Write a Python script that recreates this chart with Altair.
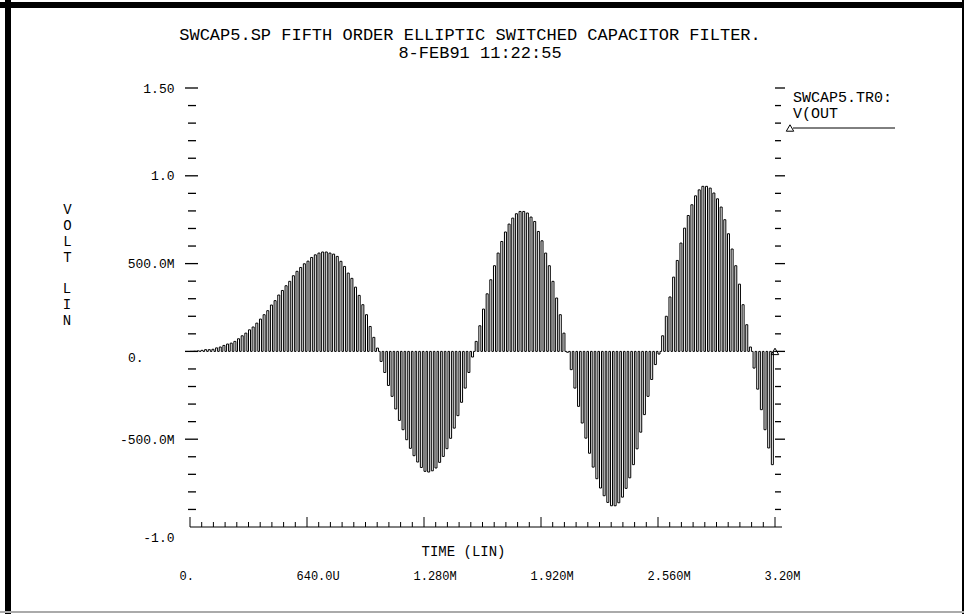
import json
import altair as alt
import pandas as pd

# ---------------- data ----------------
# V(OUT) samples, one every 20 us (0 .. 3.18 ms), in volts
VOUT = [
    0.0, 0.001, 0.003, 0.006,
    0.01, 0.01, 0.012, 0.02, 0.025, 0.034, 0.042, 0.047, 0.057, 0.072,
    0.089, 0.104, 0.123, 0.139, 0.161, 0.184, 0.209, 0.232, 0.264, 0.289,
    0.321, 0.347, 0.374, 0.399, 0.431, 0.456, 0.478, 0.499, 0.514, 0.535,
    0.55, 0.56, 0.566, 0.566, 0.56, 0.554, 0.541, 0.513, 0.484, 0.446,
    0.416, 0.366, 0.319, 0.266, 0.209, 0.142, 0.08, 0.019,
    -0.057, -0.12, -0.194, -0.256, -0.328, -0.393, -0.446, -0.503, -0.552,
    -0.594, -0.63, -0.661, -0.683, -0.687, -0.68, -0.664, -0.632, -0.598,
    -0.554, -0.495, -0.437, -0.366, -0.29, -0.209, -0.12, -0.032,
    0.057, 0.146, 0.241, 0.328, 0.408, 0.488, 0.56, 0.626, 0.68, 0.725,
    0.759, 0.784, 0.797, 0.797, 0.788, 0.765, 0.74, 0.683, 0.63, 0.56,
    0.488, 0.399, 0.304, 0.209, 0.104,
    -0.005,
    -0.104, -0.209, -0.313, -0.408, -0.494, -0.58, -0.659, -0.725, -0.778,
    -0.822, -0.86, -0.879, -0.879, -0.862, -0.83, -0.78, -0.72, -0.645,
    -0.555, -0.46, -0.36, -0.256, -0.16, -0.075, -0.015,
    0.089, 0.2, 0.31, 0.423, 0.518, 0.617, 0.702, 0.774, 0.835, 0.886,
    0.92, 0.94, 0.94, 0.93, 0.902, 0.869, 0.822, 0.75, 0.67, 0.583,
    0.488, 0.383, 0.266, 0.152, 0.025,
    -0.095, -0.215, -0.332, -0.446, -0.55, -0.645,
]
SAMPLE_STEP_MS = 0.02
T_END_MS = 3.2

X_TICK_VALUES = [0.0, 0.64, 1.28, 1.92, 2.56, 3.2]
X_TICK_LABELS = ["0.", "640.0U", "1.280M", "1.920M", "2.560M", "3.20M"]
X_MINOR_STEP = 0.064
Y_TICK_VALUES = [-1.0, -0.5, 0.0, 0.5, 1.0, 1.5]
Y_TICK_LABELS = ["-1.0", "-500.0M", "0.", "500.0M", "1.0", "1.50"]
Y_MINOR_STEP = 0.1

TITLE_1 = "SWCAP5.SP FIFTH ORDER ELLIPTIC SWITCHED CAPACITOR FILTER."
TITLE_2 = "8-FEB91 11:22:55"
LEGEND_FILE = "SWCAP5.TR0:"
LEGEND_SIG = "V(OUT"
Y_TITLE_1 = ["V", "O", "L", "T"]
Y_TITLE_2 = ["L", "I", "N"]
X_TITLE = "TIME (LIN)"

# ---------------- styling / layout ----------------
FONT = "Liberation Mono"
W, H = 585, 439
HOLD_MS = 0.011

# waveform path: each sample is held as a narrow pulse that returns to zero
rows = []
i = 0
for k, v in enumerate(VOUT):
    t = k * SAMPLE_STEP_MS
    for tt, vv in ((t, 0.0), (t, v), (t + HOLD_MS, v), (t + HOLD_MS, 0.0)):
        rows.append({"t": tt, "v": vv, "i": i})
        i += 1
rows.append({"t": T_END_MS, "v": 0.0, "i": i})
wave = pd.DataFrame(rows)

n_x_minor = int(round(T_END_MS / X_MINOR_STEP))
x_all = [round(j * X_MINOR_STEP, 3) for j in range(n_x_minor + 1)]
x_major_inner = X_TICK_VALUES[1:-1]
x_minor = [x for x in x_all if all(abs(x - m) > 1e-9 for m in X_TICK_VALUES)]
x_ends = [X_TICK_VALUES[0], X_TICK_VALUES[-1]]

n_y = int(round((1.5 - (-1.0)) / Y_MINOR_STEP))
y_all = [round(-1.0 + j * Y_MINOR_STEP, 2) for j in range(n_y + 1)]
y_major = [y for y in Y_TICK_VALUES if y > -1.0]
y_minor = [y for y in y_all if all(abs(y - m) > 1e-9 for m in Y_TICK_VALUES)]

xscale = alt.Scale(domain=[0, T_END_MS], nice=False, zero=False)
yscale = alt.Scale(domain=[-1.0, 1.5], nice=False, zero=False)


def lab_expr(vals, labs):
    return f"{json.dumps(labs)}[indexof({json.dumps(vals)}, datum.value)]"


xaxis = alt.Axis(
    values=X_TICK_VALUES, labelExpr=lab_expr(X_TICK_VALUES, X_TICK_LABELS),
    ticks=False, tickSize=0, domain=False, grid=False,
    labelFont=FONT, labelFontSize=12, labelColor="black", labelAlign="left",
    labelOffset=-11, labelPadding=43, labelBaseline="top",
    title=X_TITLE, titleFont=FONT, titleFontSize=14, titleFontWeight="normal",
    titleColor="black", titleX=273, titleY=24, titleAlign="center",
    titleBaseline="middle", labelOverlap=False,
)
yaxis = alt.Axis(
    values=Y_TICK_VALUES, labelExpr=lab_expr(Y_TICK_VALUES, Y_TICK_LABELS),
    ticks=False, tickSize=0, domain=False, grid=False,
    labelFont=FONT, labelFontSize=13, labelColor="black", labelAlign="right",
    labelPadding={"condition": {"test": "datum.value == 0", "value": 47},
                  "value": 16},
    labelOffset={"condition": [
        {"test": "datum.value == 0", "value": 6},
        {"test": "datum.value == -1", "value": 10}], "value": 0},
    labelBaseline="middle", labelOverlap=False,
    title=Y_TITLE_1, titleFont=FONT, titleFontSize=14, titleFontWeight="normal",
    titleColor="black", titleAngle=0, titleX=-123, titleY=114,
    titleAlign="center", titleBaseline="top", titleLineHeight=16,
)

X = lambda: alt.X("t:Q", scale=xscale, axis=xaxis)
Y = lambda: alt.Y("v:Q", scale=yscale, axis=yaxis)

line = alt.Chart(wave).mark_line(color="black", strokeWidth=1).encode(
    x=X(), y=Y(), order="i:Q"
)

def yticks(vals, x1, x2):
    return alt.Chart(pd.DataFrame({"v": vals})).mark_rule(
        color="black", strokeWidth=1.3).encode(
        y=Y(), x=alt.value(x1), x2=alt.value(x2))

def xticks(vals, y1, y2):
    return alt.Chart(pd.DataFrame({"t": vals})).mark_rule(
        color="black", strokeWidth=1).encode(
        x=X(), y=alt.value(y1), y2=alt.value(y2))

one = pd.DataFrame({"a": [0]})

def pix_rule(x1, x2, y1, y2, color="black", sw=1):
    return alt.Chart(one).mark_rule(color=color, strokeWidth=sw).encode(
        x=alt.value(x1), x2=alt.value(x2), y=alt.value(y1), y2=alt.value(y2))

def pix_text(txt, x, y, size, align="center", baseline="middle", lh=None):
    kw = {}
    if lh is not None:
        kw["lineHeight"] = lh
    return alt.Chart(one).mark_text(
        text=txt, font=FONT, fontSize=size, color="black", align=align,
        baseline=baseline, **kw).encode(x=alt.value(x), y=alt.value(y))

end_marker = alt.Chart(pd.DataFrame({"t": [T_END_MS], "v": [0.0]})).mark_point(
    shape="triangle-up", filled=False, color="black", size=55, strokeWidth=1,
    opacity=1).encode(x=X(), y=Y())

legend_marker = alt.Chart(one).mark_point(
    shape="triangle-up", filled=False, color="black", size=55, strokeWidth=1,
    opacity=1).encode(x=alt.value(600), y=alt.value(40))

layers = [
    line,
    yticks(y_minor, -2, 6), yticks(y_major, -5, 8),
    yticks(y_minor, W, W + 6), yticks(y_major, W, W + 10),
    xticks(x_minor, H, H - 5), xticks(x_major_inner, H, H - 10),
    xticks(x_ends, H, H - 10),
    pix_rule(0, W + 7, H, H),
    end_marker, legend_marker,
    pix_rule(603, 705, 40, 40),
    pix_text(TITLE_1, 280, -53, 17),
    pix_text(TITLE_2, 290, -35, 17),
    pix_text(LEGEND_FILE, 603, 9, 15, "left"),
    pix_text(LEGEND_SIG, 603, 25, 15, "left"),
    pix_text(Y_TITLE_2, -123, 194, 14, "center", "top", 16),
    pix_rule(-182, -182, -88, 526, sw=6),
    pix_rule(-190, 774, -83, -83, sw=6),
    pix_rule(773, 773, -88, 526, sw=2),
    pix_rule(-190, 774, 524, 524, color="#aaaaaa", sw=2),
]

chart = alt.layer(*layers).properties(
    width=W, height=H,
    autosize=alt.AutoSizeParams(type="none"),
    padding={"left": 190, "top": 88, "right": 189, "bottom": 87},
    background="white",
).configure_view(stroke=None)

chart.save("out.html", embed_options={"renderer": "svg", "actions": False})
